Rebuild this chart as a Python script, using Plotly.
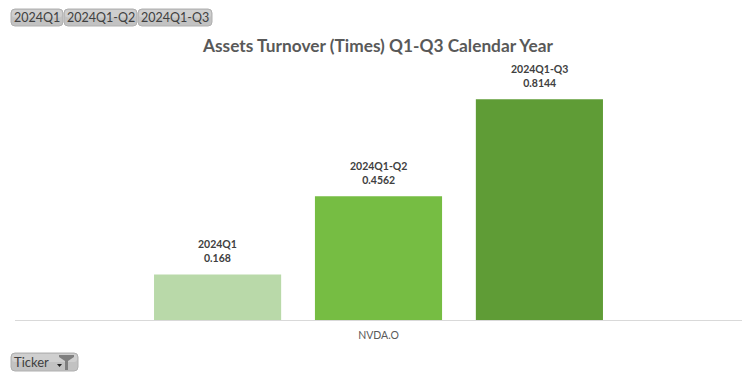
import plotly.graph_objects as go

ticker = ["NVDA.O"]
periods = ["2024Q1", "2024Q1-Q2", "2024Q1-Q3"]
turnover = [0.168, 0.4562, 0.8144]
colors = ["#b9d9a9", "#76bd43", "#5f9c36"]
title = "Assets Turnover (Times) Q1-Q3 Calendar Year"
slicer_buttons = ["2024Q1", "2024Q1-Q2", "2024Q1-Q3"]
field_button = "Ticker"

W, H = 756, 378
L, R, T, B = 15, 14, 49, 58
PW, PH = W - L - R, H - T - B
FONT = "Lato, Carlito, Calibri, sans-serif"
BAR_PITCH = 161


def px(x):
    return (x - L) / PW


def py(y):
    return (H - B - y) / PH


def rrect(x0, y0, x1, y1, r=4):
    pts = [
        f"M{px(x0 + r)},{py(y0)}", f"L{px(x1 - r)},{py(y0)}",
        f"Q{px(x1)},{py(y0)} {px(x1)},{py(y0 + r)}", f"L{px(x1)},{py(y1 - r)}",
        f"Q{px(x1)},{py(y1)} {px(x1 - r)},{py(y1)}", f"L{px(x0 + r)},{py(y1)}",
        f"Q{px(x0)},{py(y1)} {px(x0)},{py(y1 - r)}", f"L{px(x0)},{py(y0 + r)}",
        f"Q{px(x0)},{py(y0)} {px(x0 + r)},{py(y0)}", "Z",
    ]
    return " ".join(pts)


def button(x0, y0, x1, y1):
    return [
        dict(type="path", xref="paper", yref="paper", path=rrect(x0, y0, x1, y1),
             fillcolor="#c2c2c2", line=dict(color="#b0b0b0", width=1), layer="above"),
        dict(type="path", xref="paper", yref="paper",
             path=rrect(x0 + 1, y0 + 1, x1 - 1, (y0 + y1) / 2, 3),
             fillcolor="#cfcfcf", line=dict(width=0), layer="above"),
    ]


fig = go.Figure()
shapes, annots = [], []
for i, (name, value, color) in enumerate(zip(periods, turnover, colors)):
    fig.add_trace(go.Bar(
        x=ticker, y=[value], name=name, marker=dict(color=color, line=dict(width=0)),
        hoverinfo="x+y+name",
    ))
    annots.append(dict(xref="x", yref="y", x=ticker[0], y=value,
                       xshift=(i - 1) * BAR_PITCH, yshift=8, yanchor="bottom", xanchor="center",
                       text=f"<b>{name}<br>{value}</b>", showarrow=False,
                       font=dict(family=FONT, size=10.5, color="#404040")))

spans = [(11, 63), (64, 137), (138, 212)]
for label, (x0, x1) in zip(slicer_buttons, spans):
    shapes += button(x0, 9, x1, 26)
    annots.append(dict(xref="paper", yref="paper", x=px((x0 + x1) / 2), y=py(17.5),
                       text=label, showarrow=False, xanchor="center", yanchor="middle",
                       font=dict(family=FONT, size=12.5, color="#404040")))

shapes += button(11, 353, 78, 371)
annots.append(dict(xref="paper", yref="paper", x=px(12), y=py(362), text=field_button,
                   showarrow=False, xanchor="left", yanchor="middle",
                   font=dict(family=FONT, size=13, color="#404040")))
# dropdown arrow and funnel icon on the field button
shapes.append(dict(type="path", xref="paper", yref="paper",
                   path=f"M{px(57)},{py(364)} L{px(62)},{py(364)} L{px(59.5)},{py(367)} Z",
                   fillcolor="#222222", line=dict(width=0), layer="above"))
shapes.append(dict(type="path", xref="paper", yref="paper",
                   path=(f"M{px(59)},{py(355)} L{px(74)},{py(355)} L{px(74)},{py(357)} "
                         f"L{px(68)},{py(361)} L{px(68)},{py(370)} L{px(65)},{py(370)} "
                         f"L{px(65)},{py(361)} L{px(59)},{py(357)} Z"),
                   fillcolor="#7f7f7f", line=dict(width=0), layer="above"))

fig.update_layout(
    width=W, height=H, autosize=False,
    margin=dict(l=L, r=R, t=T, b=B),
    paper_bgcolor="white", plot_bgcolor="white",
    barmode="group", bargap=0.336, bargroupgap=0.21,
    showlegend=False,
    title=dict(text=f"<b>{title}</b>", x=378 / W, xanchor="center", y=1 - 46 / H, yanchor="middle",
               font=dict(family=FONT, size=17.3, color="#595959")),
    xaxis=dict(showline=True, linecolor="#d9d9d9", linewidth=1, ticks="outside", ticklen=5,
               tickcolor="rgba(0,0,0,0)", automargin=False,
               tickfont=dict(family=FONT, size=10.5, color="#595959")),
    yaxis=dict(range=[0, 1], visible=False, automargin=False),
    shapes=shapes, annotations=annots,
)
fig.write_html("out.html", config={"displayModeBar": False},
               post_script="document.body.style.margin='0';")
